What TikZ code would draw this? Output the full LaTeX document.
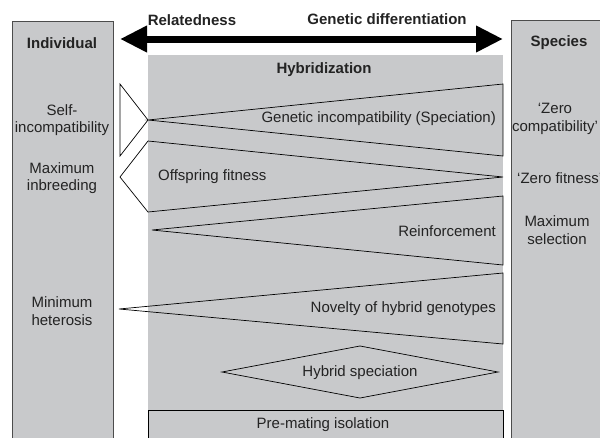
\documentclass[tikz,border=0pt]{standalone}
\usepackage{fontspec}
\setmainfont{Liberation Sans}
\usetikzlibrary{arrows.meta}
\definecolor{panelgray}{RGB}{200,201,203}
\definecolor{inkgray}{RGB}{35,35,35}

\begin{document}
\begin{tikzpicture}[x=1pt, y=-1pt, every node/.style={font=\fontsize{15}{17.5}\selectfont, text=inkgray, inner sep=0pt, align=center}, hd/.style={font=\fontsize{15}{17.5}\selectfont\bfseries}, shp/.style={draw=black, line width=0.7pt, line join=miter}]
	\useasboundingbox (0,0) rectangle (600,437);
	\clip (0,0) rectangle (600,437);
	\draw[draw=black!70, fill=panelgray, line width=0.8pt] (12,21) rectangle (113,445);
	\draw[draw=black!70, fill=panelgray, line width=0.8pt] (511,20) rectangle (620,445);
	\fill[panelgray] (148,55) rectangle (503,445);
	\coordinate (relend) at (120,39);
	\coordinate (genend) at (503,39);
	\draw[line width=7pt, {Triangle[length=27pt,width=25pt]}-{Triangle[length=27pt,width=25pt]}] (relend) -- (genend);
	\node[hd] (rel) at (192,20) {Relatedness};
	\node[hd] (gen) at (387,19) {Genetic differentiation};
	\node[hd] (indiv) at (62,43) {Individual};
	\node[hd] (spec) at (559,43) {Species};
	\node[hd] (hyb) at (324,70) {Hybridization};
	\draw[shp] (120,84) -- (148,120) -- (120,156) -- cycle;
	\draw[shp] (503,84) -- (148,120) -- (503,156) -- cycle;
	\draw[shp] (148,141) -- (503,177) -- (148,212) -- (120,177) -- cycle;
	\draw[shp] (503,196) -- (152,230) -- (503,265) -- cycle;
	\draw[shp] (503,273) -- (119,309) -- (503,344) -- cycle;
	\draw[shp] (222,372) -- (360,346) -- (498,372) -- (360,398) -- cycle;
	\draw[shp, fill=panelgray] (148,410) rectangle (503,450);
	\node[anchor=east] (genincomp) at (496,119) {Genetic incompatibility (Speciation)};
	\node[anchor=west] (offfit) at (158,177) {Offspring fitness};
	\node[anchor=east] (reinf) at (496,231) {Reinforcement};
	\node[anchor=east] (novel) at (496,309) {Novelty of hybrid genotypes};
	\node (hybspec) at (360,373) {Hybrid speciation};
	\node (premat) at (323,425) {Pre-mating isolation};
	\node (selfinc) at (62,120) {Self-\\incompatibility};
	\node (maxinb) at (62,178) {Maximum\\inbreeding};
	\node (minhet) at (62,311) {Minimum\\heterosis};
	\node (zerocomp) at (555,119) {‘Zero\\compatibility’};
	\node[anchor=west] (zerofit) at (517,178) {‘Zero fitness’};
	\node (maxsel) at (557,230) {Maximum\\selection};
\end{tikzpicture}
\end{document}
